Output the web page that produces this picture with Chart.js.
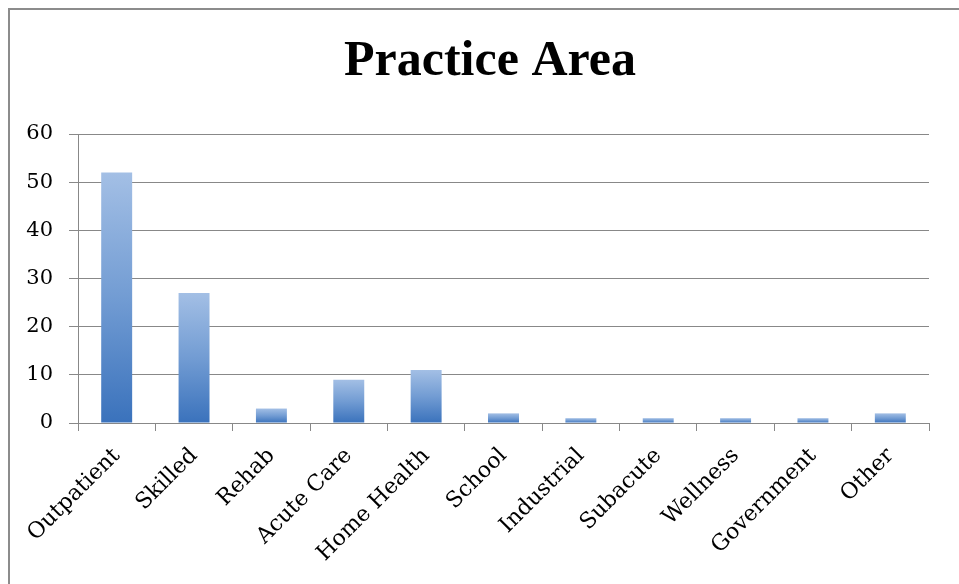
<!DOCTYPE html>
<html>
<head>
<meta charset="utf-8">
<title>Practice Area</title>
<script src="https://cdn.jsdelivr.net/npm/chart.js@4/dist/chart.umd.min.js"></script>
<style>
  html, body { margin: 0; padding: 0; background: #fff; overflow: hidden; }
  #wrap { position: relative; width: 959px; height: 584px; }
  #frame {
    position: absolute; left: 8px; top: 8px; width: 1200px; height: 900px;
    border-top: 2px solid #8c8c8c; border-left: 2px solid #8c8c8c;
  }
  canvas { position: absolute; left: 0; top: 0; }
</style>
</head>
<body>
<div id="wrap">
  <div id="frame"></div>
  <canvas id="practiceChart" width="959" height="584"></canvas>
</div>
<script>
// Survey counts by practice setting
const categories = ['Outpatient', 'Skilled', 'Rehab', 'Acute Care', 'Home Health', 'School',
                    'Industrial', 'Subacute', 'Wellness', 'Government', 'Other'];
const counts = [52, 27, 3, 9, 11, 2, 1, 1, 1, 1, 2];
const yTicks = [0, 10, 20, 30, 40, 50, 60];

const gridGray = '#888888';

// each bar fades from light blue at its top to deeper blue at the base
function barGradient(context) {
  const chart = context.chart;
  const yScale = chart.scales.y;
  if (!yScale || context.parsed === undefined) return '#4a7ec4';
  const top = yScale.getPixelForValue(context.parsed.y);
  const base = yScale.getPixelForValue(0);
  if (!isFinite(top) || !isFinite(base) || top === base) return '#4a7ec4';
  const g = chart.ctx.createLinearGradient(0, top, 0, base);
  g.addColorStop(0, '#a3bfe5');
  g.addColorStop(0.5, '#729cd3');
  g.addColorStop(1, '#3a72bc');
  return g;
}

// centre the title over the space between the frame edge and the plot's right end
const titleShift = {
  id: 'titleShift',
  afterLayout(chart) {
    if (chart.titleBlock) chart.titleBlock.left = 51;
  }
};

new Chart(document.getElementById('practiceChart').getContext('2d'), {
  type: 'bar',
  data: {
    labels: categories,
    datasets: [{
      label: 'Practice Area',
      data: counts,
      backgroundColor: barGradient,
      borderWidth: 0,
      barPercentage: 0.4,
      categoryPercentage: 1
    }]
  },
  plugins: [titleShift],
  options: {
    responsive: false,
    animation: false,
    layout: { padding: { left: 0, right: 30, top: 0, bottom: 0 } },
    plugins: {
      legend: { display: false },
      tooltip: { enabled: false },
      title: {
        display: true,
        text: 'Practice Area',
        color: '#000',
        font: { family: 'Liberation Serif', size: 50, weight: 'bold' },
        padding: { top: 32, bottom: 42 }
      }
    },
    scales: {
      x: {
        ticks: {
          color: '#000',
          font: { family: 'DejaVu Serif', size: 22 },
          minRotation: 45,
          maxRotation: 45,
          autoSkip: false,
          padding: 12
        },
        grid: {
          drawOnChartArea: false,
          drawTicks: true,
          tickLength: 8,
          color: gridGray
        },
        border: { color: gridGray, width: 1 },
        afterFit: (scale) => { scale.height = 161; }
      },
      y: {
        min: 0,
        max: 60,
        afterBuildTicks: (scale) => { scale.ticks = yTicks.map(v => ({ value: v })); },
        ticks: {
          color: '#000',
          font: { family: 'DejaVu Serif', size: 21 },
          padding: 16
        },
        grid: {
          color: gridGray,
          lineWidth: 1,
          tickLength: 9
        },
        border: { color: gridGray, width: 1 },
        afterFit: (scale) => { scale.width = 78; }
      }
    }
  }
});
</script>
</body>
</html>
